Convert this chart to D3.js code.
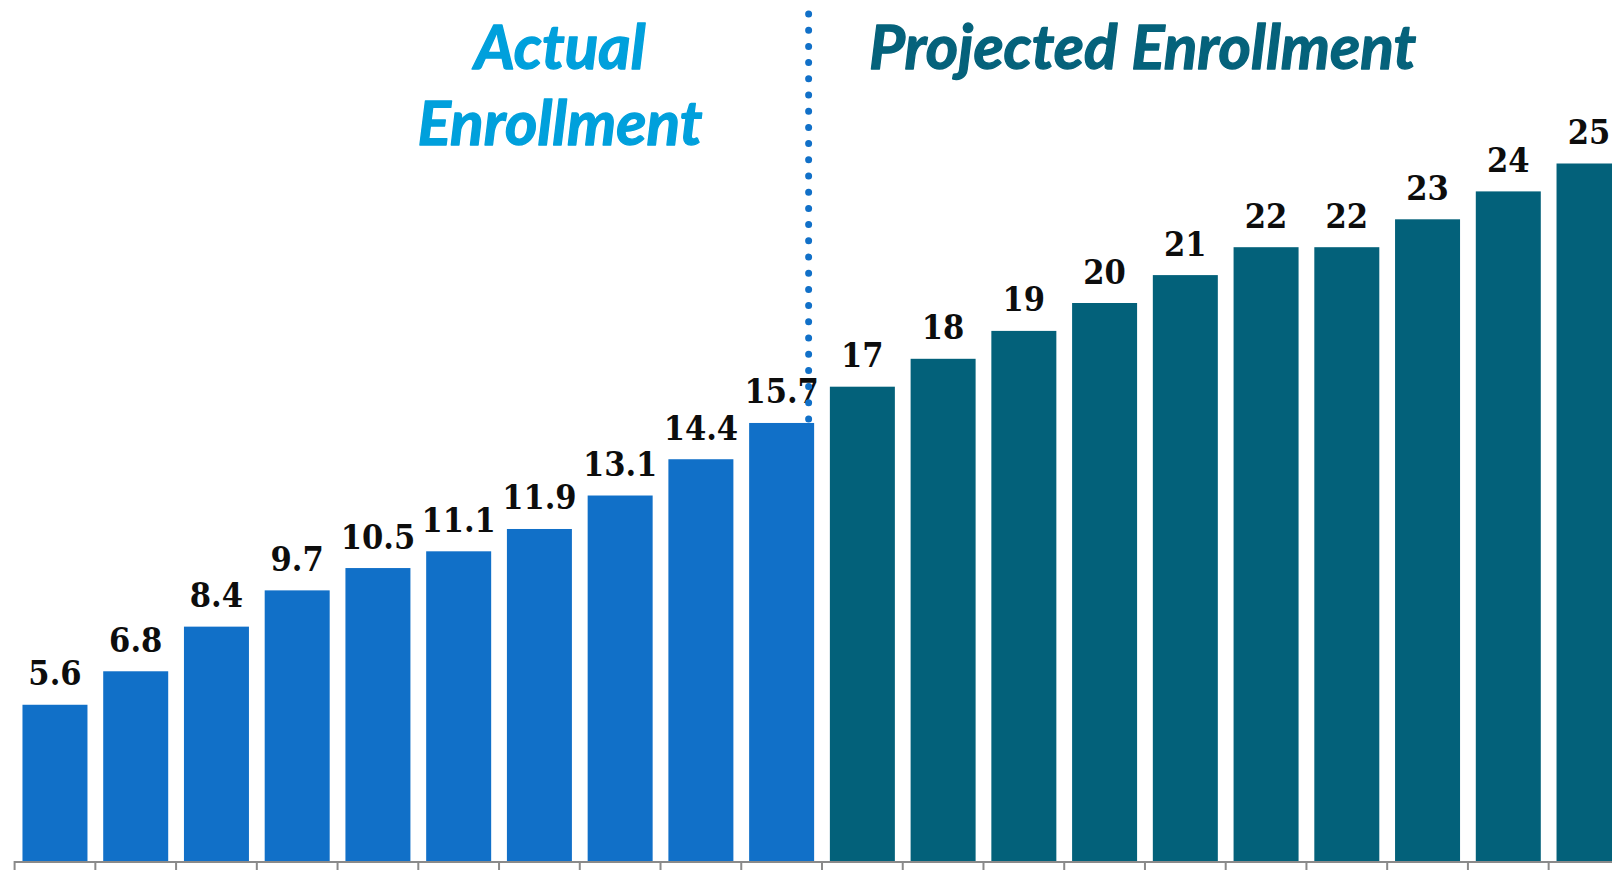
<!DOCTYPE html>
<html>
<head>
<meta charset="utf-8">
<script src="https://cdn.jsdelivr.net/npm/d3@7/dist/d3.min.js"></script>
<style>
  html, body { margin: 0; padding: 0; background: #ffffff; overflow: hidden; }
  svg { display: block; }
</style>
</head>
<body>
<svg id="chart" width="1612" height="870"></svg>
<script>
// ---- Data ----
const categories = ["P1","P2","P3","P4","P5","P6","P7","P8","P9","P10",
                    "P11","P12","P13","P14","P15","P16","P17","P18","P19","P20"];
const actualValues = [5.6, 6.8, 8.4, 9.7, 10.5, 11.1, 11.9, 13.1, 14.4, 15.7];
const projectedValues = [17, 18, 19, 20, 21, 22, 22, 23, 24, 25];
const actualLabels = ["5.6","6.8","8.4","9.7","10.5","11.1","11.9","13.1","14.4","15.7"];
const projectedLabels = ["17","18","19","20","21","22","22","23","24","25"];
const sectionTitles = [["Actual", "Enrollment"], ["Projected Enrollment"]];

// ---- Build table ----
const rows = categories.map((c, i) => {
  const isActual = i < actualValues.length;
  return {
    cat: c,
    type: isActual ? "actual" : "projected",
    value: isActual ? actualValues[i] : projectedValues[i - actualValues.length],
    label: isActual ? actualLabels[i] : projectedLabels[i - actualValues.length]
  };
});

const colors = { actual: "#1170C8", projected: "#03617A" };

const svg = d3.select("#chart");

const x = d3.scaleBand()
  .domain(categories)
  .range([14.6, 1629.4])
  .paddingInner(0.195)
  .paddingOuter(0.0975);

const y = d3.scaleLinear()
  .domain([0, 30])
  .range([861, 24]);

// Bars
svg.append("g").selectAll("rect")
  .data(rows)
  .join("rect")
  .attr("x", d => x(d.cat))
  .attr("y", d => y(d.value))
  .attr("width", x.bandwidth())
  .attr("height", d => y(0) - y(d.value))
  .attr("fill", d => colors[d.type]);

// Value labels
svg.append("g").selectAll("text")
  .data(rows)
  .join("text")
  .attr("x", d => x(d.cat) + x.bandwidth() / 2)
  .attr("y", d => y(d.value) - 19.5)
  .attr("text-anchor", "middle")
  .style("font-family", "'DejaVu Serif Condensed', 'DejaVu Serif', serif")
  .style("font-stretch", "condensed")
  .style("font-weight", "bold")
  .style("font-size", "34px")
  .attr("fill", "#0d0d0d")
  .text(d => d.label);

// Axis line + ticks at band boundaries
const half = x.step() * x.paddingInner() / 2;
const axisG = svg.append("g");
axisG.append("line")
  .attr("x1", x(categories[0]) - half)
  .attr("x2", 1612)
  .attr("y1", y(0) + 1)
  .attr("y2", y(0) + 1)
  .attr("stroke", "#8a8a8a")
  .attr("stroke-width", 2);
axisG.selectAll("line.tick")
  .data(categories)
  .join("line")
  .attr("class", "tick")
  .attr("x1", d => x(d) - half)
  .attr("x2", d => x(d) - half)
  .attr("y1", y(0))
  .attr("y2", 872)
  .attr("stroke", "#8a8a8a")
  .attr("stroke-width", 2);

// Dotted divider at the end of the actual series
const lastActual = categories[actualValues.length - 1];
const divX = x(lastActual) + x.bandwidth() - 5.5;
svg.append("line")
  .attr("x1", divX).attr("x2", divX)
  .attr("y1", 14)
  .attr("y2", y(actualValues[actualValues.length - 1]) - 2)
  .attr("stroke", "#1170C8")
  .attr("stroke-width", 7)
  .attr("stroke-linecap", "round")
  .attr("stroke-dasharray", "0 16.2");

// Section titles
const titleFont = "Lato, 'Open Sans', sans-serif";
const titleG = svg.append("g")
  .style("font-family", titleFont)
  .style("font-weight", "bold")
  .style("font-style", "italic");

// fit font size so that "Enrollment" is ~289px wide
const probe = titleG.append("text").style("font-size", "100px").text("Enrollment");
const w100 = probe.node().getComputedTextLength();
probe.remove();
const fs = 100 * 285 / w100;

const actualCenter = 560;
titleG.selectAll("text.actual")
  .data(sectionTitles[0])
  .join("text")
  .attr("class", "actual")
  .attr("x", actualCenter)
  .attr("y", (d, i) => 69 + i * 76)
  .attr("text-anchor", "middle")
  .style("font-size", fs + "px")
  .attr("fill", "#00A0DC")
  .attr("stroke", "#00A0DC")
  .attr("stroke-width", 1.3)
  .attr("stroke-linejoin", "round")
  .text(d => d);

titleG.selectAll("text.proj")
  .data(sectionTitles[1])
  .join("text")
  .attr("class", "proj")
  .attr("x", 1142.5)
  .attr("y", 69)
  .attr("text-anchor", "middle")
  .style("font-size", fs + "px")
  .attr("fill", "#05627B")
  .attr("stroke", "#05627B")
  .attr("stroke-width", 1.3)
  .attr("stroke-linejoin", "round")
  .text(d => d);
</script>
</body>
</html>
